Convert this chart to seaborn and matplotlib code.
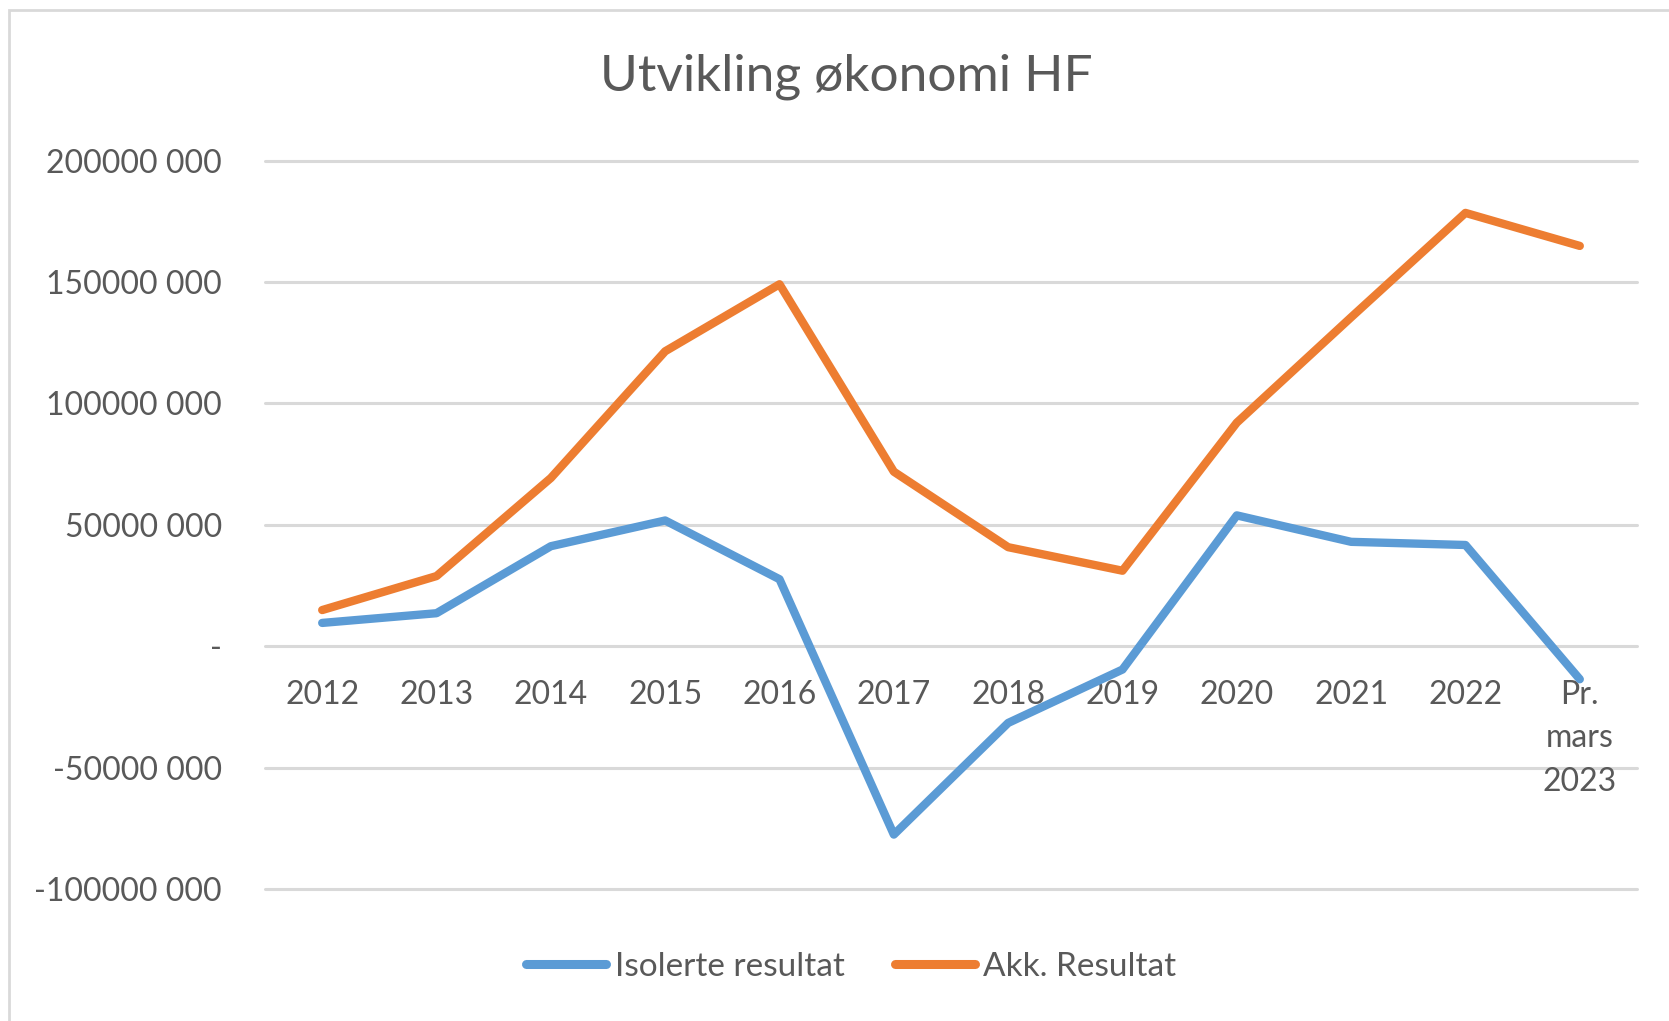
import pandas as pd
import seaborn as sns
import matplotlib.pyplot as plt
from matplotlib.patches import Rectangle


# Data
categories = ["2012", "2013", "2014", "2015", "2016", "2017", "2018",
              "2019", "2020", "2021", "2022", "Pr.\nmars\n2023"]
isolerte = [9.6, 13.6, 41.2, 51.8, 27.6, -77.6, -31.6, -9.6, 53.9, 43.0, 41.7, -13.6]
akkumulert = [14.9, 28.9, 69.3, 121.5, 149.1, 71.9, 40.8, 31.1, 92.1, 135.5, 178.5, 164.9]
series_names = ["Isolerte resultat", "Akk. Resultat"]

y_ticks = [-100e6, -50e6, 0, 50e6, 100e6, 150e6, 200e6]
y_labels = ["-100000 000", "-50000 000", "-", "50000 000", "100000 000",
            "150000 000", "200000 000"]

df = pd.DataFrame({
    "Kategori": categories * 2,
    "Verdi": [v * 1e6 for v in isolerte + akkumulert],
    "Serie": [series_names[0]] * len(categories) + [series_names[1]] * len(categories),
})

text_col = "#595959"
grid_col = "#D9D9D9"

sns.set_style("white")
plt.rcParams["font.family"] = ["Lato", "DejaVu Sans"]

fig = plt.figure(figsize=(16.69, 10.21), dpi=100)
ax = fig.add_axes([0.1588, 0.1293, 0.822, 0.7133])

sns.lineplot(data=df, x="Kategori", y="Verdi", hue="Serie", sort=False,
             palette=["#5B9BD5", "#ED7D31"], linewidth=6, ax=ax,
             solid_capstyle="round", solid_joinstyle="round")

ax.set_xlim(-0.5, len(categories) - 0.5)
ax.set_ylim(-100e6, 200e6)
ax.set_yticks(y_ticks)
ax.set_yticklabels(y_labels)
ax.set_xlabel("")
ax.set_ylabel("")

for y in y_ticks:
    ax.axhline(y, color=grid_col, linewidth=2.2, zorder=0, clip_on=False)

for s in ax.spines.values():
    s.set_visible(False)
ax.spines["bottom"].set_position(("data", 0))

ax.tick_params(axis="y", length=0, pad=31, labelsize=23, labelcolor=text_col)
ax.tick_params(axis="x", length=0, pad=24, labelsize=23, labelcolor=text_col)
for lab in ax.get_xticklabels():
    lab.set_linespacing(1.58)

fig.text(0.507, 0.9246, "Utvikling økonomi HF", ha="center", va="center",
         fontsize=37, color=text_col)

leg = ax.legend(loc="center", bbox_to_anchor=(0.51, 0.053),
                bbox_transform=fig.transFigure, ncol=2, frameon=False,
                fontsize=24, handlelength=2.4, handletextpad=0.25,
                columnspacing=1.5)
for t in leg.get_texts():
    t.set_color(text_col)
for h in leg.get_lines():
    h.set_linewidth(6.5)
    h.set_solid_capstyle("round")

# light frame around the chart; right and bottom edges fall outside the image
fig.patches.append(Rectangle((9, -100), 1800, 1111, transform=None,
                             fill=False, edgecolor=grid_col, linewidth=2))

fig.savefig("out.png", dpi=100)
